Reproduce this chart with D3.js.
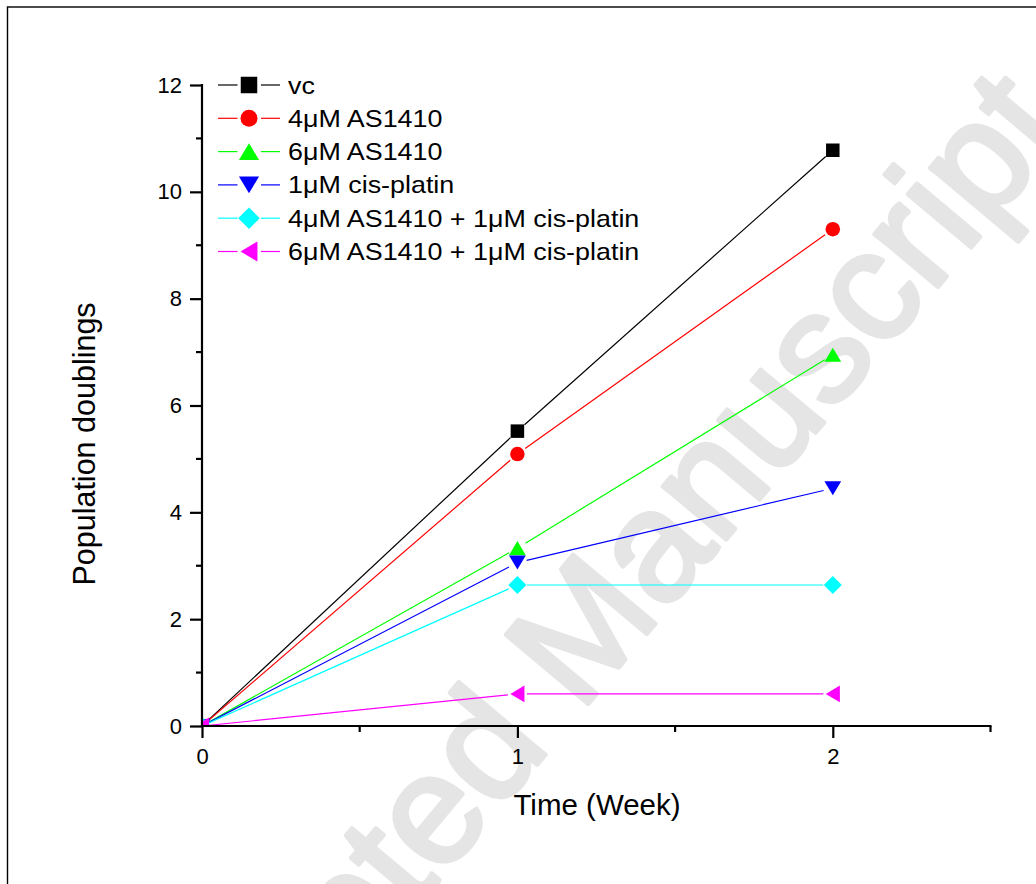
<!DOCTYPE html>
<html><head><meta charset="utf-8">
<script src="https://cdn.jsdelivr.net/npm/d3@7"></script>
<style>html,body{margin:0;padding:0;background:#fff;} svg{display:block;}</style>
</head><body>
<script>
// ---- data ----
const weeks = [0, 1, 2];
const seriesNames = ["vc", "4\u03BCM AS1410", "6\u03BCM AS1410", "1\u03BCM cis-platin",
  "4\u03BCM AS1410 + 1\u03BCM cis-platin", "6\u03BCM AS1410 + 1\u03BCM cis-platin"];
const vcValues      = [0, 5.52, 10.78];
const as4Values     = [0, 5.09, 9.30];
const as6Values     = [0, 3.33, 6.95];
const cisValues     = [0, 3.06, 4.45];
const as4cisValues  = [0, 2.64, 2.64];
const as6cisValues  = [0, 0.60, 0.60];
const seriesColors  = ["#000000", "#ff0000", "#00ff00", "#0000ff", "#00ffff", "#ff00ff"];
const seriesSymbols = ["square", "circle", "triUp", "triDown", "diamond", "triLeft"];
const yTicks = [0, 2, 4, 6, 8, 10, 12];
const xTicks = [0, 1, 2];
const xLabel = "Time (Week)";
const yLabel = "Population doublings";
const watermark = "Accepted Manuscript";

const allValues = [vcValues, as4Values, as6Values, cisValues, as4cisValues, as6cisValues];

const W = 1036, H = 884;
const svg = d3.select("body").append("svg").attr("width", W).attr("height", H)
  .style("font-family", "'Liberation Sans', Arial, sans-serif");

// watermark (partly outside the picture, as in the reference)
svg.append("text").attr("x", 0).attr("y", 0)
  .attr("transform", "translate(134,1245) rotate(-50)")
  .attr("font-size", 156)
  .attr("fill", "#e5e5e5").attr("stroke", "#e5e5e5").attr("stroke-width", 4.5)
  .attr("stroke-linejoin", "round").text(watermark);

// frame
svg.append("rect").attr("x", 7.5).attr("y", 7).attr("width", 1200).attr("height", 1000)
  .attr("fill", "none").attr("stroke", "#000").attr("stroke-width", 1.4);

const x = d3.scaleLinear().domain([0, 2.5]).range([202, 990.5]);
const y = d3.scaleLinear().domain([0, 12]).range([726, 85]);

// clip
svg.append("clipPath").attr("id", "plotclip").append("rect")
  .attr("x", x(0)).attr("y", y(12) - 10).attr("width", x(2.5) - x(0) + 10).attr("height", y(0) - y(12) + 10);

function markerPath(type, s) {
  const h = s / 2;
  switch (type) {
    case "square": return `M${-h},${-h}H${h}V${h}H${-h}Z`;
    case "circle": return `M${-h},0A${h},${h} 0 1,0 ${h},0A${h},${h} 0 1,0 ${-h},0Z`;
    case "triUp": { const a = s * 0.56, b = s * 0.47; return `M0,${-b}L${a},${b}L${-a},${b}Z`; }
    case "triDown": { const a = s * 0.56, b = s * 0.47; return `M0,${b}L${a},${-b}L${-a},${-b}Z`; }
    case "diamond": { const a = s * 0.6; return `M0,${-a}L${a},0L0,${a}L${-a},0Z`; }
    case "triLeft": { const a = s * 0.56, b = s * 0.47; return `M${-b},0L${b},${-a}L${b},${a}Z`; }
  }
}
const plotSizes = [13.5, 14.5, 15, 15, 15, 15];

// series
const plotG = svg.append("g").attr("clip-path", "url(#plotclip)");
const gap = 9.5;
allValues.forEach((vals, i) => {
  const pts = weeks.map((w, j) => [x(w), y(vals[j])]);
  const g = plotG.append("g");
  for (let j = 0; j < pts.length - 1; j++) {
    const [x1, y1] = pts[j], [x2, y2] = pts[j + 1];
    const dx = x2 - x1, dy = y2 - y1, L = Math.hypot(dx, dy);
    const ux = dx / L, uy = dy / L;
    const g0 = j === 0 ? 0 : gap;
    g.append("line")
      .attr("x1", x1 + ux * g0).attr("y1", y1 + uy * g0)
      .attr("x2", x2 - ux * gap).attr("y2", y2 - uy * gap)
      .attr("stroke", seriesColors[i]).attr("stroke-width", 1.2);
  }
  g.selectAll("path.m").data(pts).enter().append("path").attr("class", "m")
    .attr("transform", d => `translate(${d[0]},${d[1]})`)
    .attr("d", markerPath(seriesSymbols[i], plotSizes[i]))
    .attr("fill", seriesColors[i]);
});

// axes
const axisColor = "#000";
const yAxis = d3.axisLeft(y).tickValues(yTicks).tickSize(12).tickPadding(8).tickFormat(d3.format("d"));
const yG = svg.append("g").attr("transform", `translate(${x(0)},0)`).call(yAxis);
yG.select(".domain").remove();
yG.append("line").attr("x1", 0).attr("x2", 0).attr("y1", y(12) - 1).attr("y2", y(0) + 1)
  .attr("stroke", axisColor).attr("stroke-width", 2.2);
yG.selectAll(".tick line").attr("stroke-width", 2.2);
yG.selectAll(".tick text").attr("font-size", 22).attr("fill", "#000")
  .attr("font-family", "'Liberation Sans', Arial, sans-serif");
const yMinor = d3.range(1, 12, 2);
yG.selectAll("line.minor").data(yMinor).enter().append("line").attr("class", "minor")
  .attr("x1", -6).attr("x2", 0).attr("y1", d => y(d)).attr("y2", d => y(d))
  .attr("stroke", axisColor).attr("stroke-width", 2.2);

const xAxis = d3.axisBottom(x).tickValues(xTicks).tickSize(12).tickPadding(10).tickFormat(d3.format("d"));
const xG = svg.append("g").attr("transform", `translate(0,${y(0)})`).call(xAxis);
xG.select(".domain").remove();
xG.append("line").attr("x1", x(0) - 1).attr("x2", x(2.5) + 1).attr("y1", 0).attr("y2", 0)
  .attr("stroke", axisColor).attr("stroke-width", 2.2);
xG.selectAll(".tick line").attr("stroke-width", 2.2);
xG.selectAll(".tick text").attr("font-size", 22).attr("fill", "#000")
  .attr("font-family", "'Liberation Sans', Arial, sans-serif");
const xMinor = [0.5, 1.5, 2.5];
xG.selectAll("line.minor").data(xMinor).enter().append("line").attr("class", "minor")
  .attr("x1", d => x(d)).attr("x2", d => x(d)).attr("y1", 0).attr("y2", 6)
  .attr("stroke", axisColor).attr("stroke-width", 2.2);

// axis titles
svg.append("text").attr("x", 597).attr("y", 815).attr("text-anchor", "middle")
  .attr("font-size", 29.5).attr("fill", "#000").text(xLabel);
svg.append("text").attr("transform", "translate(95,444) rotate(-90)").attr("text-anchor", "middle")
  .attr("font-size", 30.5).attr("fill", "#000").text(yLabel);

// legend
const legY0 = 85, legDy = 33.3;
const legendSizes = [16.5, 17, 18, 18, 18, 18];
const leg = svg.append("g");
seriesNames.forEach((name, i) => {
  const cy = legY0 + i * legDy;
  leg.append("line").attr("x1", 218).attr("x2", 237.5).attr("y1", cy).attr("y2", cy)
    .attr("stroke", seriesColors[i]).attr("stroke-width", 1.2);
  leg.append("line").attr("x1", 261).attr("x2", 280).attr("y1", cy).attr("y2", cy)
    .attr("stroke", seriesColors[i]).attr("stroke-width", 1.2);
  leg.append("path").attr("transform", `translate(249,${cy})`)
    .attr("d", markerPath(seriesSymbols[i], legendSizes[i])).attr("fill", seriesColors[i]);
  leg.append("text").attr("transform", `translate(288,${cy + 8.5}) scale(1.12,1)`)
    .attr("font-size", 24).attr("fill", "#000").text(name);
});
</script>
</body></html>
